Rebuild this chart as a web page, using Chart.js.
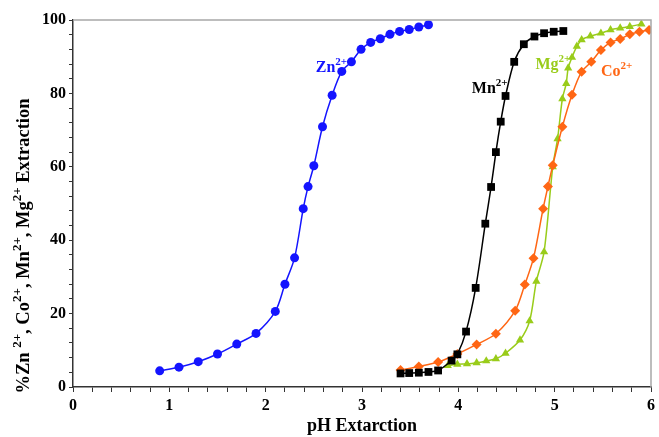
<!DOCTYPE html>
<html>
<head>
<meta charset="utf-8">
<script src="https://cdn.jsdelivr.net/npm/chart.js@4.4.1/dist/chart.umd.min.js"></script>
<style>
  html, body { margin: 0; padding: 0; background: #fff; }
  #wrap { width: 659px; height: 437px; }
</style>
</head>
<body>
<div id="wrap"><canvas id="chart"></canvas></div>
<script>
// Data (pH vs % extraction)
const znPH  = [0.90, 1.10, 1.30, 1.50, 1.70, 1.90, 2.10, 2.20, 2.30, 2.39, 2.44, 2.50, 2.59, 2.69, 2.79, 2.89, 2.99, 3.09, 3.19, 3.29, 3.39, 3.49, 3.59, 3.69];
const znPct = [4.4, 5.4, 6.9, 9.0, 11.7, 14.6, 20.6, 28.0, 35.2, 48.6, 54.6, 60.3, 70.9, 79.5, 86.0, 88.6, 92.0, 93.9, 94.9, 96.1, 96.9, 97.4, 98.1, 98.7];

const mnPH  = [3.40, 3.49, 3.59, 3.69, 3.79, 3.93, 3.99, 4.08, 4.18, 4.28, 4.34, 4.39, 4.44, 4.49, 4.58, 4.68, 4.79, 4.89, 4.99, 5.09];
const mnPct = [3.7, 3.8, 3.9, 4.1, 4.5, 7.2, 8.9, 15.1, 27.0, 44.5, 54.5, 64.0, 72.3, 79.3, 88.6, 93.4, 95.5, 96.4, 96.8, 97.0];

const coPH  = [3.40, 3.59, 3.79, 3.99, 4.19, 4.39, 4.59, 4.69, 4.78, 4.88, 4.93, 4.98, 5.08, 5.18, 5.28, 5.38, 5.48, 5.58, 5.68, 5.78, 5.88, 5.98];
const coPct = [4.6, 5.6, 6.8, 9.0, 11.6, 14.5, 20.8, 27.9, 35.1, 48.6, 54.6, 60.4, 70.9, 79.6, 85.9, 88.6, 91.8, 93.9, 94.8, 96.1, 96.8, 97.3];

const mgPH  = [3.89, 3.99, 4.09, 4.19, 4.29, 4.39, 4.49, 4.64, 4.74, 4.81, 4.89, 4.98, 5.03, 5.08, 5.12, 5.14, 5.18, 5.23, 5.28, 5.37, 5.48, 5.58, 5.68, 5.78, 5.90];
const mgPct = [5.8, 6.2, 6.3, 6.6, 7.1, 7.7, 9.2, 12.8, 18.0, 28.8, 36.8, 60.0, 67.6, 78.5, 82.7, 86.9, 89.8, 92.8, 94.6, 95.6, 96.4, 97.3, 97.8, 98.2, 98.9];

const xTickLabels = ['0', '1', '2', '3', '4', '5', '6'];
const yTickLabels = ['0', '20', '40', '60', '80', '100'];

// curve labels: [main, sup, pH, %, colour]
const curveLabels = [
  ['Zn', '2+', 2.52, 85.8, '#1414ff'],
  ['Mn', '2+', 4.14, 80.2, '#000000'],
  ['Mg', '2+', 4.80, 86.6, '#99cc1a'],
  ['Co', '2+', 5.48, 84.8, '#ff6614']
];

const SERIF = '"Liberation Serif", "Times New Roman", serif';

function pts(xs, ys) {
  return xs.map((x, i) => ({ x: x, y: ys[i] }));
}

function series(label, xs, ys, color, style, radius) {
  return {
    label: label,
    data: pts(xs, ys),
    borderColor: color,
    backgroundColor: color,
    borderWidth: 1.5,
    pointStyle: style,
    pointRadius: radius,
    pointBorderWidth: 0,
    tension: 0.3
  };
}

// draws sup-scripted text pieces in a row starting at (0,0)
function drawPieces(ctx, pieces, size) {
  let x = 0;
  pieces.forEach(p => {
    const s = p.sup ? Math.round(size * 0.7) : size;
    ctx.font = 'bold ' + s + 'px ' + SERIF;
    ctx.fillText(p.t, x, p.sup ? -size * 0.42 : 0);
    x += ctx.measureText(p.t).width;
  });
  return x;
}

function measurePieces(ctx, pieces, size) {
  let w = 0;
  pieces.forEach(p => {
    const s = p.sup ? Math.round(size * 0.7) : size;
    ctx.font = 'bold ' + s + 'px ' + SERIF;
    w += ctx.measureText(p.t).width;
  });
  return w;
}

const decorPlugin = {
  id: 'decor',
  afterDraw(chart) {
    const ctx = chart.ctx;
    const a = chart.chartArea;
    const xs = chart.scales.x, ys = chart.scales.y;

    // grey frame on top and right
    ctx.save();
    ctx.strokeStyle = '#a8a8a8';
    ctx.lineWidth = 1.5;
    ctx.beginPath();
    ctx.moveTo(a.left, a.top);
    ctx.lineTo(a.right, a.top);
    ctx.lineTo(a.right, a.bottom);
    ctx.stroke();
    ctx.restore();

    // curve labels
    curveLabels.forEach(l => {
      ctx.save();
      ctx.fillStyle = l[4];
      ctx.textBaseline = 'alphabetic';
      ctx.translate(xs.getPixelForValue(l[2]), ys.getPixelForValue(l[3]));
      drawPieces(ctx, [{ t: l[0] }, { t: l[1], sup: true }], 16);
      ctx.restore();
    });

    // y axis title
    const title = [
      { t: '%Zn ' }, { t: '2+', sup: true }, { t: ', Co' }, { t: '2+', sup: true },
      { t: ', Mn' }, { t: '2+', sup: true }, { t: ', Mg' }, { t: '2+', sup: true },
      { t: ' Extraction' }
    ];
    ctx.save();
    ctx.fillStyle = '#000';
    ctx.textBaseline = 'alphabetic';
    const w = measurePieces(ctx, title, 18.5);
    ctx.translate(29, 246);
    ctx.rotate(-Math.PI / 2);
    ctx.translate(-w / 2, 0);
    drawPieces(ctx, title, 18.5);
    ctx.restore();
  }
};

function initChart() {
  const ctx = document.getElementById('chart').getContext('2d');
  new Chart(ctx, {
    type: 'line',
    data: {
      datasets: [
        series('Mn', mnPH, mnPct, '#000000', 'rect', 5.5),
        series('Zn', znPH, znPct, '#1414ff', 'circle', 4.5),
        series('Co', coPH, coPct, '#ff6614', 'rectRot', 5),
        series('Mg', mgPH, mgPct, '#99cc1a', 'triangle', 4.8)
      ]
    },
    options: {
      responsive: true,
      maintainAspectRatio: false,
      animation: false,
      layout: { padding: { top: 20, right: 6, left: 0, bottom: 0 } },
      plugins: {
        legend: { display: false },
        tooltip: { enabled: false }
      },
      scales: {
        x: {
          type: 'linear',
          min: 0,
          max: 6,
          afterFit: s => { s.height = 50; },
          ticks: {
            stepSize: 0.2,
            autoSkip: false,
            maxRotation: 0,
            padding: 4,
            color: '#000',
            font: { family: SERIF, size: 16, weight: 'bold' },
            callback: v => {
              const r = Math.round(v);
              return Math.abs(v - r) < 1e-6 ? xTickLabels[r] : '';
            }
          },
          grid: { drawOnChartArea: false, drawTicks: true, tickLength: 5, color: '#333', lineWidth: 1 },
          border: { display: true, color: '#333', width: 1.5 },
          title: {
            display: true,
            text: 'pH Extarction',
            color: '#000',
            padding: { top: 0, bottom: 0 },
            font: { family: SERIF, size: 18, weight: 'bold' }
          }
        },
        y: {
          type: 'linear',
          min: 0,
          max: 100,
          afterFit: s => { s.width = 73; },
          ticks: {
            stepSize: 4,
            autoSkip: false,
            padding: 3,
            color: '#000',
            font: { family: SERIF, size: 16, weight: 'bold' },
            callback: v => (v % 20 === 0 ? yTickLabels[v / 20] : '')
          },
          grid: { drawOnChartArea: false, drawTicks: true, tickLength: 4, color: '#333', lineWidth: 1 },
          border: { display: true, color: '#333', width: 1.5 }
        }
      }
    },
    plugins: [decorPlugin]
  });
}

document.addEventListener('DOMContentLoaded', initChart);
</script>
</body>
</html>
